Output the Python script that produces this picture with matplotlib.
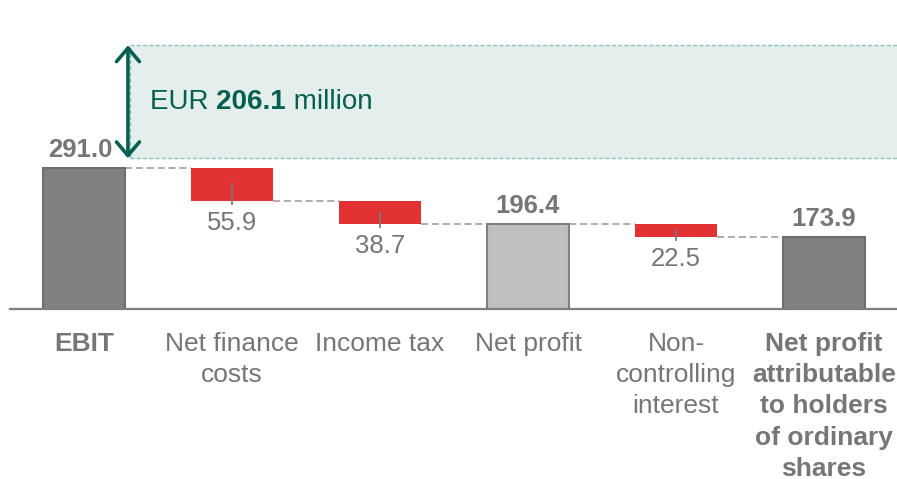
import numpy as np
import matplotlib
matplotlib.use("Agg")
import matplotlib.pyplot as plt
from matplotlib.patches import Rectangle

plt.rcParams['font.family'] = ['Liberation Sans', 'DejaVu Sans']

# ---- data ----
categories = ["EBIT", "Net finance\ncosts", "Income tax", "Net profit",
              "Non-\ncontrolling\ninterest",
              "Net profit\nattributable\nto holders\nof ordinary\nshares"]
values = [291.0, -55.9, -38.7, 196.4, -22.5, 173.9]
kinds = ["total", "delta", "delta", "subtotal", "delta", "total"]
bold_cats = [True, False, False, False, False, True]
highlight_value = 206.1
band_low = 306.8  # lower edge of highlighted band

# ---- style ----
c_total = "#808080"
c_total_edge = "#6f6f6f"
c_sub = "#bfbfbf"
c_sub_edge = "#7f7f7f"
c_red = "#e33233"
c_text = "#767676"
c_green = "#06604f"
c_band = "#e4eeec"
c_band_edge = "#8ec5bb"

W, H = 897, 479
fig = plt.figure(figsize=(W / 100, H / 100), dpi=100)
base_px = 309
ax = fig.add_axes([0, (H - base_px) / H, 1, base_px / H])
y0, y1 = 53.1, 573.3
ax.set_ylim(y0, y1)
x = np.arange(len(values))
ax.set_xlim(-84 / 148, (W - 84) / 148)
ax.axis("off")

bw = 0.56
level = 0.0
levels_after = []
for i, (v, k) in enumerate(zip(values, kinds)):
    if k == "delta":
        top = level
        bot = level + v
        ax.bar(x[i], top - bot, bottom=bot, width=bw, color=c_red, edgecolor="none", zorder=3)
        mid = (top + bot) / 2
        ax.plot([x[i], x[i]], [mid, bot - 5], color="#7a7a7a", lw=1.3, zorder=4)
        ax.annotate(f"{abs(v):.1f}", (x[i], bot), xytext=(0, -21), textcoords="offset points",
                    ha="center", va="baseline", fontsize=18.5, color=c_text)
        level = bot
    else:
        level = v
        fc = c_total if k == "total" else c_sub
        ec = c_total_edge if k == "total" else c_sub_edge
        ax.bar(x[i], v, width=bw, color=fc, edgecolor=ec, linewidth=1.5, zorder=3)
        dx = -2.5 if i == 0 else 0
        ax.annotate(f"{v:.1f}", (x[i], v), xytext=(dx, 8), textcoords="offset points",
                    ha="center", va="baseline", fontsize=18.5, fontweight="bold", color=c_text)
    levels_after.append(level)

# connectors
for i in range(len(values) - 1):
    lv = levels_after[i]
    ax.plot([x[i] + bw / 2, x[i + 1] - bw / 2], [lv, lv], color="#a8a8a8", lw=1.3,
            ls=(0, (4, 2)), zorder=2)

# baseline
ax.axhline(y0, xmin=10 / W, xmax=1, color="#7f7f7f", lw=1.6, clip_on=False, zorder=5)

# category labels
for i, c in enumerate(categories):
    ax.annotate(c, (x[i], y0), xytext=(0, -16.5), textcoords="offset points",
                ha="center", va="top", fontsize=19, color=c_text,
                fontweight="bold" if bold_cats[i] else "normal",
                linespacing=1.38, multialignment="center", annotation_clip=False)

# highlighted band
band_high = values[0] + highlight_value
band_left = x[0] + 0.31
rect = Rectangle((band_left, band_low), 10, band_high - band_low, facecolor=c_band,
                 edgecolor=c_band_edge, lw=1.0, ls=(0, (3, 1.5)), zorder=1)
ax.add_patch(rect)
arrow_x = x[0] + 0.297
ax.annotate("", xy=(arrow_x, band_high), xytext=(arrow_x, band_low),
            arrowprops=dict(arrowstyle="<->,head_length=0.65,head_width=0.55",
                            color=c_green, lw=2.6, mutation_scale=15,
                            shrinkA=0, shrinkB=0), zorder=6)

t1 = ax.text(x[0] + 0.446, (band_low + band_high) / 2, "EUR ", fontsize=20,
             color=c_green, va="center", ha="left")
t2 = ax.annotate(f"{highlight_value:.1f}", xy=(1, 0), xycoords=t1, va="bottom", ha="left",
                 fontsize=20, fontweight="bold", color=c_green)
t3 = ax.annotate(" million", xy=(1, 0), xycoords=t2, va="bottom", ha="left",
                 fontsize=20, color=c_green)

fig.savefig("out.png", dpi=100)
